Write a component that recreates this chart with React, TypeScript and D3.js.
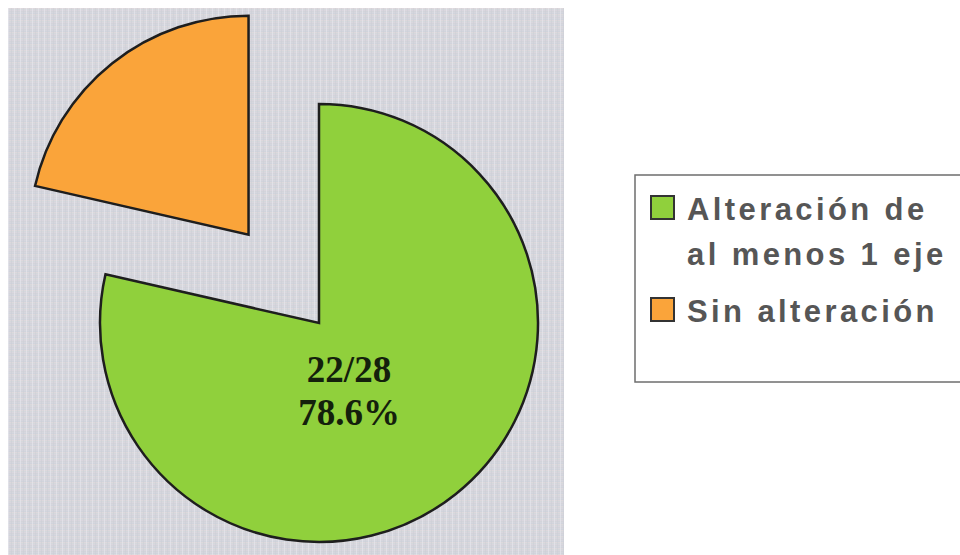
import React from "react";
import * as d3 from "d3";

const categories = ["Alteración de al menos 1 eje", "Sin alteración"];
const legendLines = [["Alteración de", "al menos 1 eje"], ["Sin alteración"]];
const values = [22, 6];
const colors = ["#90d03c", "#faa43a"];
const labelLines = ["22/28", "78.6%"];

const W = 960;
const H = 555;

export default function App() {
  const cx = 319;
  const cy = 323;
  const r = 219;
  const explode = 113;

  const pie = d3.pie<number>().sort(null).startAngle(0).endAngle(2 * Math.PI);
  const arcs = pie(values);
  const arc = d3.arc<d3.PieArcDatum<number>>().innerRadius(0).outerRadius(r);

  const stripeColors = ["#d6d6de", "#d0d4dc", "#ddd8dc", "#d4d8dc", "#dad6de", "#d2d4da"];

  return (
    <svg width={W} height={H} style={{ position: "absolute", left: 0, top: 0, background: "#fff" }}>
      <defs>
        <pattern id="bgp" width="6" height="6" patternUnits="userSpaceOnUse">
          {stripeColors.map((c, i) => (
            <rect key={i} x={0} y={i} width={6} height={1} fill={c} />
          ))}
          <rect x={2} y={0} width={1} height={6} fill="#e8e8ee" opacity={0.6} />
          <rect x={5} y={0} width={1} height={6} fill="#cccdd6" opacity={0.5} />
        </pattern>
      </defs>
      <rect x={8} y={8} width={556} height={H - 8} fill="url(#bgp)" />
      {arcs.map((a, i) => {
        const mid = (a.startAngle + a.endAngle) / 2;
        const off = i === 1 ? explode : 0;
        const dx = Math.sin(mid) * off;
        const dy = -Math.cos(mid) * off;
        return (
          <path
            key={categories[i]}
            d={arc(a) || ""}
            transform={`translate(${cx + dx},${cy + dy})`}
            fill={colors[i]}
            stroke="#1e1e1e"
            strokeWidth={2.5}
            strokeLinejoin="miter"
          />
        );
      })}
      <g fontFamily="'Liberation Serif', 'Times New Roman', serif" fontWeight="bold" fontSize={37} fill="#14200c" textAnchor="middle">
        {labelLines.map((t, i) => (
          <text key={t} x={cx + 30} y={cy + 59 + i * 43}>
            {t}
          </text>
        ))}
      </g>
      <rect x={635} y={175} width={340} height={207} fill="#fff" stroke="#6e6e6e" strokeWidth={1.5} />
      {legendLines.map((lines, i) => {
        const baseY = i === 0 ? 220 : 322;
        return (
          <g key={categories[i]}>
            <rect x={651} y={baseY - 24} width={23} height={23} fill={colors[i]} stroke="#333" strokeWidth={2} />
            {lines.map((t, j) => (
              <text
                key={t}
                x={687}
                y={baseY + j * 45}
                fontFamily="'Liberation Sans', Arial, sans-serif"
                fontWeight="bold"
                fontSize={31}
                letterSpacing={3.4}
                fill="#565656"
              >
                {t}
              </text>
            ))}
          </g>
        );
      })}
    </svg>
  );
}
